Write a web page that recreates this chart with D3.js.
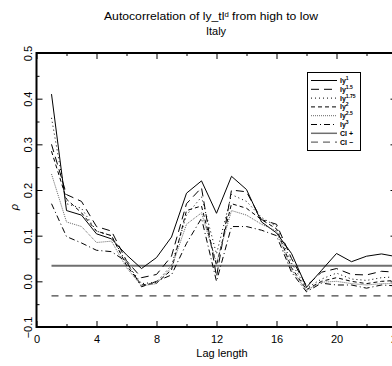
<!DOCTYPE html>
<html>
<head>
<meta charset="utf-8">
<script src="https://cdn.jsdelivr.net/npm/d3@7/dist/d3.min.js"></script>
<style>
  body { margin: 0; background: #fff; }
  svg { display: block; font-family: "Liberation Sans", Arial, sans-serif; }
</style>
</head>
<body>
<svg id="chart" width="392" height="366"></svg>
<script>
// lags 1..24
const lags = d3.range(1, 25);
const ly1   = [0.410,0.155,0.145,0.104,0.093,0.058,0.028,0.052,0.097,0.193,0.220,0.149,0.230,0.201,0.130,0.106,0.061,-0.013,0.024,0.061,0.043,0.055,0.060,0.054];
const ly15  = [0.300,0.190,0.175,0.120,0.110,0.045,0.008,0.015,0.055,0.170,0.205,0.010,0.200,0.196,0.135,0.125,0.050,-0.010,0.020,0.028,0.015,0.014,0.022,0.020];
const ly175 = [0.358,0.170,0.160,0.110,0.100,0.040,-0.005,-0.002,0.035,0.145,0.185,0.060,0.190,0.175,0.140,0.120,0.040,-0.015,0.005,0.018,0.005,0.002,0.008,0.010];
const ly2   = [0.285,0.180,0.150,0.110,0.100,0.035,-0.008,-0.004,0.025,0.155,0.165,0.035,0.170,0.160,0.135,0.115,0.030,-0.018,0.000,0.008,0.000,-0.005,0.000,0.002];
const ly25  = [0.235,0.130,0.120,0.085,0.088,0.030,-0.010,-0.005,0.030,0.125,0.150,0.040,0.155,0.145,0.125,0.110,0.025,-0.020,-0.002,0.000,-0.005,-0.008,-0.005,-0.005];
const ly3   = [0.170,0.098,0.084,0.068,0.065,0.043,-0.012,0.000,0.014,0.083,0.138,0.000,0.120,0.120,0.112,0.100,0.020,-0.023,-0.004,-0.008,-0.008,-0.015,-0.008,-0.010];
const ciPlus = 0.034, ciMinus = -0.032;

const xTicks = [0, 4, 8, 12, 16, 20, 24];
const yTicks = [-0.1, 0.0, 0.1, 0.2, 0.3, 0.4, 0.5];

const series = [
  {name: "1",    values: ly1,   dash: null,      color: "#000"},
  {name: "1.5",  values: ly15,  dash: "8,5",     color: "#000"},
  {name: "1.75", values: ly175, dash: "1,3",     color: "#000"},
  {name: "2",    values: ly2,   dash: "4,3",     color: "#000"},
  {name: "2.5",  values: ly25,  dash: "1,1",     color: "#666"},
  {name: "3",    values: ly3,   dash: "6,3,1,3", color: "#000"}
];

let svg = d3.select("#chart");
let mLeft = 36.5, mRight = 396.5, mTop = 53, mBottom = 327;

let x = d3.scaleLinear().domain([0, 24]).range([mLeft, mRight]);
let y = d3.scaleLinear().domain([-0.1, 0.5]).range([mBottom, mTop]);

// titles
svg.append("text").attr("x", 211).attr("y", 20).attr("text-anchor", "middle")
  .style("font-size", "11px")
  .attr("textLength", 214).attr("lengthAdjust", "spacingAndGlyphs")
  .call(t => {
    t.append("tspan").text("Autocorrelation of ly_tl");
    t.append("tspan").attr("baseline-shift", "super").style("font-size", "7px").text("d");
    t.append("tspan").text(" from high to low");
  });
svg.append("text").attr("x", 216).attr("y", 35).attr("text-anchor", "middle")
  .style("font-size", "11px").text("Italy");

// axes (ticks inside the plot)
let gx = svg.append("g").attr("transform", `translate(0,${mBottom})`)
  .call(d3.axisBottom(x).tickValues(xTicks).tickSize(-6).tickPadding(10).tickFormat(d3.format("d")));
svg.append("g").attr("transform", `translate(0,${mBottom})`)
  .call(d3.axisBottom(x).tickValues(d3.range(2, 24, 4)).tickSize(-3).tickFormat(""));
svg.append("g").attr("transform", `translate(0,${mTop})`)
  .call(d3.axisTop(x).tickValues(xTicks).tickSize(-6).tickFormat(""));
svg.append("g").attr("transform", `translate(0,${mTop})`)
  .call(d3.axisTop(x).tickValues(d3.range(2, 24, 4)).tickSize(-3).tickFormat(""));

let gy = svg.append("g").attr("transform", `translate(${mLeft},0)`)
  .call(d3.axisLeft(y).tickValues(yTicks).tickSize(-6).tickFormat(d3.format(".1f")));
svg.append("g").attr("transform", `translate(${mLeft},0)`)
  .call(d3.axisLeft(y).tickValues(d3.range(-0.05, 0.5, 0.1)).tickSize(-3).tickFormat(""));
svg.append("g").attr("transform", `translate(${mRight},0)`)
  .call(d3.axisRight(y).tickValues(yTicks).tickSize(-6).tickFormat(""));
svg.append("g").attr("transform", `translate(${mRight},0)`)
  .call(d3.axisRight(y).tickValues(d3.range(-0.05, 0.5, 0.1)).tickSize(-3).tickFormat(""));

svg.selectAll(".domain").remove();
svg.selectAll(".tick line").attr("stroke", "#000").attr("stroke-width", 1);
svg.selectAll(".tick text").style("font-size", "11px").attr("fill", "#000").style("font-family", "Liberation Sans, Arial, sans-serif");

gx.selectAll(".tick text").attr("dy", "0.5em");
// y labels rotated
gy.selectAll(".tick text")
  .attr("x", null).attr("dy", null)
  .attr("text-anchor", "middle")
  .attr("transform", "translate(-5,0) rotate(-90)")
  .attr("y", 0)
  .text(d => d < 0 ? "\u22120.1" : d3.format(".1f")(d));

// frame
svg.append("rect").attr("x", mLeft).attr("y", mTop).attr("width", mRight - mLeft).attr("height", mBottom - mTop)
  .attr("fill", "none").attr("stroke", "#000").attr("stroke-width", 2);

// axis titles
svg.append("text").attr("x", 222).attr("y", 357).attr("text-anchor", "middle")
  .style("font-size", "11px").text("Lag length");
svg.append("text").attr("transform", "translate(18,207) rotate(-90)").attr("text-anchor", "middle")
  .style("font-size", "11px").style("font-style", "italic").text("\u03c1");

// confidence lines
svg.append("line").attr("x1", x(1)).attr("x2", x(24)).attr("y1", y(ciPlus)).attr("y2", y(ciPlus))
  .attr("stroke", "#6f6f6f").attr("stroke-width", 2);
svg.append("line").attr("x1", x(1)).attr("x2", x(24)).attr("y1", y(ciMinus)).attr("y2", y(ciMinus))
  .attr("stroke", "#444").attr("stroke-width", 1.2).attr("stroke-dasharray", "7,7");

// series
let line = d3.line().x((d, i) => x(lags[i])).y(d => y(d));
svg.selectAll(".series").data(series).enter().append("path")
  .attr("class", "series")
  .attr("d", d => line(d.values))
  .attr("fill", "none")
  .attr("stroke", d => d.color)
  .attr("stroke-width", 1)
  .attr("stroke-dasharray", d => d.dash);

// legend
let lg = svg.append("g");
lg.append("rect").attr("x", 307.5).attr("y", 72.5).attr("width", 53).attr("height", 78)
  .attr("fill", "#fff").attr("stroke", "#000").attr("stroke-width", 1);
let items = series.map(s => ({label: s.name, dash: s.dash, color: s.color, w: 1, ly: true}))
  .concat([{label: "CI +", dash: null, color: "#6f6f6f", w: 1.5, ly: false},
           {label: "CI \u2212", dash: "7,5", color: "#444", w: 1, ly: false}]);
items.forEach((it, i) => {
  let yy = 80.5 + i * 8.8;
  lg.append("line").attr("x1", 311).attr("x2", 337).attr("y1", yy).attr("y2", yy)
    .attr("stroke", it.color).attr("stroke-width", it.w).attr("stroke-dasharray", it.dash);
  let t = lg.append("text").attr("x", 340).attr("y", yy + 2.5).style("font-size", "7px").style("font-weight", "bold");
  if (it.ly) {
    t.append("tspan").text("ly");
    t.append("tspan").attr("baseline-shift", "super").style("font-size", "5px").text(it.label);
  } else {
    t.text(it.label);
  }
});
</script>
</body>
</html>
